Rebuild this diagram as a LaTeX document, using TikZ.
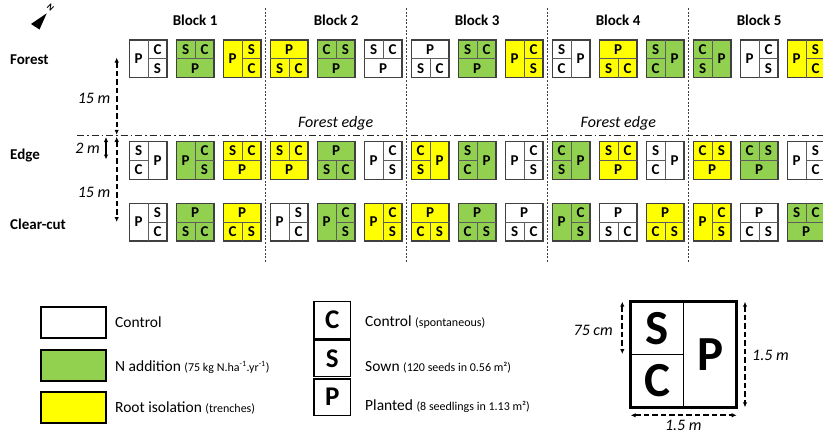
\documentclass[tikz,border=0pt]{standalone}
\usepackage{fontspec}
\setmainfont{Carlito}
\usetikzlibrary{calc,arrows.meta}
\definecolor{ngreen}{HTML}{92D050}
\definecolor{ryellow}{HTML}{FFFF00}
\definecolor{plotline}{HTML}{404040}
\tikzset{
  plotbox/.style={draw=plotline, line width=1.3pt, minimum width=37.6pt, minimum height=37.6pt, inner sep=0pt, outer sep=0pt},
  divider/.style={draw=plotline!85, line width=0.7pt},
  lt/.style={font=\fontsize{15}{15}\selectfont\bfseries, inner sep=0pt},
  rowlab/.style={font=\fontsize{15}{15}\selectfont\bfseries, inner sep=0pt, anchor=base west},
  blocklab/.style={font=\fontsize{15}{15}\selectfont\bfseries, inner sep=0pt, anchor=base},
  itlab/.style={font=\fontsize{16}{16}\selectfont\itshape, inner sep=0pt},
  blockdiv/.style={draw=black!75, line width=0.8pt, dash pattern=on 2pt off 1.6pt},
  edgeline/.style={draw=black!85, line width=1pt, dash pattern=on 7pt off 3pt on 1.5pt off 3pt},
  dimarrow/.style={draw=black, line width=1.8pt, dash pattern=on 5.5pt off 3pt, {Latex[length=5pt,width=4.5pt]}-{Latex[length=5pt,width=4.5pt]}},
  solidarrow/.style={draw=black, line width=1.3pt, {Latex[length=5pt,width=4.5pt]}-{Latex[length=5pt,width=4.5pt]}},
  legbox/.style={draw=black, line width=2pt, minimum width=64.7pt, minimum height=31pt, inner sep=0pt, outer sep=0pt},
  legtext/.style={font=\fontsize{15.5}{15.5}\selectfont, inner sep=0pt, anchor=base west},
  letbox/.style={draw=black, line width=1.2pt, minimum width=36.7pt, minimum height=36.6pt, inner sep=0pt, outer sep=0pt, font=\fontsize{27}{27}\selectfont\bfseries},
  bigsq/.style={draw=black, line width=3.5pt, minimum width=106pt, minimum height=105.6pt, inner sep=0pt, outer sep=0pt},
  bigletter/.style={font=\fontsize{49}{49}\selectfont\bfseries, inner sep=0pt},
}
\newcommand\smalltext[1]{{\fontsize{12}{12}\selectfont #1}}
% left full | right split
\newcommand\pltL[4]{%
  \draw[divider] (#1.north) -- (#1.south) (#1.east) -- (#1.center);
  \node[lt] (#1-a) at ($(#1.west)!0.5!(#1.center)$) {#2};
  \node[lt] (#1-b) at ($(#1.north east)!0.5!(#1.center)$) {#3};
  \node[lt] (#1-c) at ($(#1.south east)!0.5!(#1.center)$) {#4};}
% left split | right full
\newcommand\pltR[4]{%
  \draw[divider] (#1.north) -- (#1.south) (#1.west) -- (#1.center);
  \node[lt] (#1-a) at ($(#1.north west)!0.5!(#1.center)$) {#2};
  \node[lt] (#1-b) at ($(#1.south west)!0.5!(#1.center)$) {#3};
  \node[lt] (#1-c) at ($(#1.east)!0.5!(#1.center)$) {#4};}
% top split / bottom full
\newcommand\pltT[4]{%
  \draw[divider] (#1.west) -- (#1.east) (#1.north) -- (#1.center);
  \node[lt] (#1-a) at ($(#1.north west)!0.5!(#1.center)$) {#2};
  \node[lt] (#1-b) at ($(#1.north east)!0.5!(#1.center)$) {#3};
  \node[lt] (#1-c) at ($(#1.south)!0.5!(#1.center)$) {#4};}
% top full / bottom split
\newcommand\pltB[4]{%
  \draw[divider] (#1.west) -- (#1.east) (#1.center) -- (#1.south);
  \node[lt] (#1-a) at ($(#1.north)!0.5!(#1.center)$) {#2};
  \node[lt] (#1-b) at ($(#1.south west)!0.5!(#1.center)$) {#3};
  \node[lt] (#1-c) at ($(#1.south east)!0.5!(#1.center)$) {#4};}
\begin{document}
\begin{tikzpicture}[x=1pt,y=-1pt]
\useasboundingbox (0,0) rectangle (823,434);
\clip (0,0) rectangle (823,434);
\fill[white] (0,0) rectangle (823,434);

% north arrow
\fill[black] (46.7,13.3) -- (31,24) -- (39.5,29.5) -- cycle;
\node[font=\fontsize{9}{9}\selectfont\bfseries, rotate=-45, inner sep=0pt] (north) at (50.5,7.5) {N};

% block labels and dividers
\foreach \bk in {1,...,5}
  \node[blocklab] (block\bk) at ({148.1+47*(3*\bk-2)},25) {Block \bk};
\foreach \k in {1,...,4}{
  \coordinate (dT\k) at ({148.1+47*(3*\k-1)+23.5},8);
  \coordinate (dB\k) at ({148.1+47*(3*\k-1)+23.5},262);
  \draw[blockdiv] (dT\k) -- (dB\k);
}

% forest edge line
\coordinate (edgeL) at (77,135.7);
\coordinate (edgeR) at (823,135.7);
\draw[edgeline] (edgeL) -- (edgeR);
\node[itlab, anchor=base] (fe1) at (335.7,127.5) {Forest edge};
\node[itlab, anchor=base] (fe2) at (618.3,127.5) {Forest edge};

% row labels
\node[rowlab] (rforest) at (10,64.3) {Forest};
\node[rowlab] (redge) at (10,159.3) {Edge};
\node[rowlab] (rclear) at (10,229.3) {Clear-cut};

% distance arrows
\coordinate (a1t) at (116.7,57.5);
\coordinate (a1b) at (116.7,134.8);
\coordinate (a2t) at (116.7,136.8);
\coordinate (a2b) at (116.7,222);
\coordinate (a3t) at (106,137);
\coordinate (a3b) at (106,159.5);
\draw[dimarrow] (a1t) -- (a1b);
\draw[dimarrow] (a2t) -- (a2b);
\draw[solidarrow] (a3t) -- (a3b);
\node[itlab, anchor=base east] (l15a) at (110.5,103.3) {15 m};
\node[itlab, anchor=base east] (l15b) at (110.5,197.3) {15 m};
\node[itlab, anchor=base east] (l2) at (100,153.3) {2 m};

% plots: row 1 (forest)
\foreach \n/\col/\ty/\la/\lb/\lc in {
  1/white/L/P/C/S, 2/ngreen/T/S/C/P, 3/ryellow/L/P/S/C,
  4/ryellow/B/P/S/C, 5/ngreen/T/C/S/P, 6/white/T/S/C/P,
  7/white/B/P/S/C, 8/ngreen/T/S/C/P, 9/ryellow/L/P/C/S,
  10/white/R/S/C/P, 11/ryellow/B/P/S/C, 12/ngreen/R/S/C/P,
  13/ngreen/R/C/S/P, 14/white/L/P/C/S, 15/ryellow/L/P/S/C}{
  \node[plotbox, fill=\col] (r1-\n) at ({148.1+47*(\n-1)},58.8) {};
  \csname plt\ty\endcsname{r1-\n}{\la}{\lb}{\lc}
}
% row 2 (edge)
\foreach \n/\col/\ty/\la/\lb/\lc in {
  1/white/R/S/C/P, 2/ngreen/L/P/C/S, 3/ryellow/T/S/C/P,
  4/ryellow/T/S/C/P, 5/ngreen/B/P/S/C, 6/white/L/P/C/S,
  7/ryellow/R/C/S/P, 8/ngreen/R/S/C/P, 9/white/L/P/C/S,
  10/ngreen/R/C/S/P, 11/ryellow/T/S/C/P, 12/white/R/S/C/P,
  13/ryellow/T/C/S/P, 14/ngreen/T/C/S/P, 15/white/L/P/S/C}{
  \node[plotbox, fill=\col] (r2-\n) at ({148.1+47*(\n-1)},160.5) {};
  \csname plt\ty\endcsname{r2-\n}{\la}{\lb}{\lc}
}
% row 3 (clear-cut)
\foreach \n/\col/\ty/\la/\lb/\lc in {
  1/white/L/P/S/C, 2/ngreen/B/P/S/C, 3/ryellow/B/P/C/S,
  4/white/L/P/S/C, 5/ngreen/L/P/C/S, 6/ryellow/L/P/C/S,
  7/ryellow/B/P/C/S, 8/ngreen/B/P/C/S, 9/white/B/P/S/C,
  10/ngreen/L/P/C/S, 11/white/B/P/S/C, 12/ryellow/B/P/C/S,
  13/ryellow/L/P/C/S, 14/white/B/P/C/S, 15/ngreen/T/S/C/P}{
  \node[plotbox, fill=\col] (r3-\n) at ({148.1+47*(\n-1)},222.1) {};
  \csname plt\ty\endcsname{r3-\n}{\la}{\lb}{\lc}
}

% legend: treatments
\node[legbox, fill=white] (lgc) at (73.6,322.8) {};
\node[legbox, fill=ngreen] (lgn) at (73.6,365.3) {};
\node[legbox, fill=ryellow] (lgr) at (73.6,407.8) {};
\node[legtext] (lgct) at (115,327.7) {Control};
\node[legtext] (lgnt) at (115,371) {N addition \smalltext{(75 kg N.ha\textsuperscript{-1}.yr\textsuperscript{-1})}};
\node[legtext] (lgrt) at (115,412.7) {Root isolation \smalltext{(trenches)}};

% legend: subplots
\node[letbox] (lC) at (332.3,320) {C};
\node[letbox] (lS) at (332.3,358.3) {S};
\node[letbox] (lP) at (332.3,397.2) {P};
\node[legtext] (lCt) at (365,326.7) {Control \smalltext{(spontaneous)}};
\node[legtext] (lSt) at (365,371.7) {Sown \smalltext{(120 seeds in 0.56 m²)}};
\node[legtext] (lPt) at (365,410.7) {Planted \smalltext{(8 seedlings in 1.13 m²)}};

% big plot scheme
\node[bigsq, fill=white] (big) at (683.7,354.5) {};
\draw[line width=1.2pt] (big.north) -- (big.south) (big.west) -- (big.center);
\node[bigletter] (bS) at ($(big.north west)!0.5!(big.center)$) {S};
\node[bigletter] (bC) at ($(big.south west)!0.5!(big.center)$) {C};
\node[bigletter] (bP) at ($(big.east)!0.5!(big.center)$) {P};
\coordinate (d1t) at (622.3,301.7);
\coordinate (d1b) at (622.3,354);
\coordinate (d2t) at (745,301.7);
\coordinate (d2b) at (745,407.3);
\coordinate (d3l) at (630.7,415.3);
\coordinate (d3r) at (736.7,415.3);
\draw[dimarrow] (d1t) -- (d1b);
\draw[dimarrow] (d2t) -- (d2b);
\draw[dimarrow] (d3l) -- (d3r);
\node[itlab, anchor=base east] (l75) at (613,335) {75 cm};
\node[itlab, anchor=base west] (l15r) at (752,360) {1.5 m};
\node[itlab, anchor=base] (l15d) at (683.3,430.5) {1.5 m};
\end{tikzpicture}
\end{document}
